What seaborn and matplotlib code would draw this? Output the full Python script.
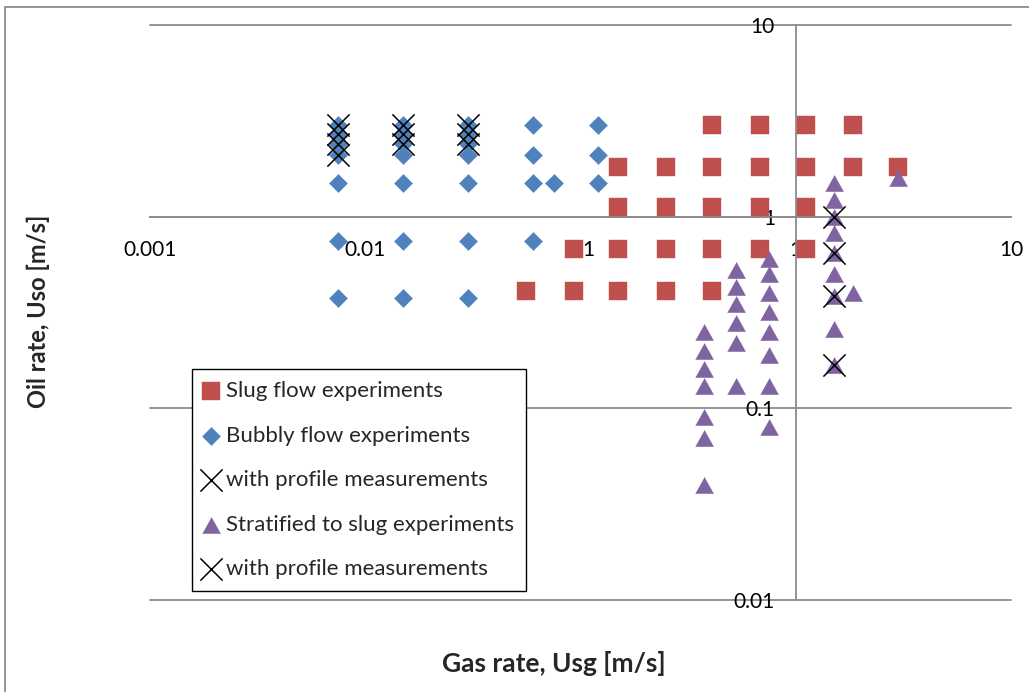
import matplotlib
matplotlib.use('Agg')
import matplotlib.pyplot as plt
import seaborn as sns
import pandas as pd
from matplotlib.patches import Rectangle
from matplotlib.ticker import FixedLocator, FixedFormatter, NullLocator

sns.set_style('white')
plt.rcParams['font.family'] = ['Lato', 'DejaVu Sans']

# ---------------- data ----------------
slug_usg = [0.41, 0.68, 1.11, 1.85,
            0.15, 0.25, 0.41, 0.68, 1.11, 1.85, 3.0,
            0.15, 0.25, 0.41, 0.68, 1.11,
            0.093, 0.15, 0.25, 0.41, 0.68, 1.11,
            0.056, 0.093, 0.15, 0.25, 0.41]
slug_uso = [3.0, 3.0, 3.0, 3.0,
            1.82, 1.82, 1.82, 1.82, 1.82, 1.82, 1.82,
            1.12, 1.12, 1.12, 1.12, 1.12,
            0.68, 0.68, 0.68, 0.68, 0.68, 0.68,
            0.41, 0.41, 0.41, 0.41, 0.41]

bubbly_usg = [0.0075] * 7 + [0.015] * 7 + [0.03] * 7 + [0.06] * 4 + [0.075] + [0.12] * 3
bubbly_uso = [3.0, 2.7, 2.4, 2.1, 1.5, 0.75, 0.375,
              3.0, 2.7, 2.4, 2.1, 1.5, 0.75, 0.375,
              3.0, 2.7, 2.4, 2.1, 1.5, 0.75, 0.375,
              3.0, 2.1, 1.5, 0.75,
              1.5,
              3.0, 2.1, 1.5]

bubbly_prof_usg = [0.0075] * 4 + [0.015] * 3 + [0.03] * 3
bubbly_prof_uso = [3.0, 2.7, 2.4, 2.1, 3.0, 2.7, 2.4, 3.0, 2.7, 2.4]

strat_usg = [0.375] * 7 + [0.53] * 6 + [0.75] * 8 + [1.5] * 9 + [1.85] + [3.0]
strat_uso = [0.25, 0.2, 0.16, 0.13, 0.09, 0.07, 0.04,
             0.53, 0.43, 0.35, 0.28, 0.22, 0.13,
             0.6, 0.5, 0.4, 0.32, 0.25, 0.19, 0.13, 0.08,
             1.5, 1.22, 1.0, 0.82, 0.65, 0.5, 0.385, 0.26, 0.168,
             0.4,
             1.6]

strat_prof_usg = [1.5, 1.5, 1.5, 1.5]
strat_prof_uso = [1.0, 0.65, 0.385, 0.168]

x_ticks = [0.001, 0.01, 0.1, 1, 10]
x_tick_labels = ['0.001', '0.01', '0.1', '1', '10']
y_ticks = [0.01, 0.1, 1, 10]
y_tick_labels = ['0.01', '0.1', '1', '10']

series_labels = ['Slug flow experiments', 'Bubbly flow experiments',
                 'with profile measurements', 'Stratified to slug experiments',
                 'with profile measurements']

RED = '#C0504D'
BLUE = '#4F81BD'
PURPLE = '#8064A2'
GRAY = '#8C8C8C'

tri = [(-1, -0.9), (1, -0.9), (0, 0.9)]

# ---------------- figure ----------------
W, H = 1029, 692
fig = plt.figure(figsize=(W / 100, H / 100), dpi=100)
ax = fig.add_axes([150 / W, 92 / H, 861 / W, 575 / H])
ax.set_xscale('log')
ax.set_yscale('log')

sns.scatterplot(x=slug_usg, y=slug_uso, ax=ax, marker='s', s=168, color=RED,
                edgecolor=RED, linewidth=0.3, label=series_labels[0], zorder=3)
sns.scatterplot(x=bubbly_usg, y=bubbly_uso, ax=ax, marker='D', s=85, color=BLUE,
                edgecolor=BLUE, linewidth=0.3, label=series_labels[1], zorder=4)
sns.scatterplot(x=bubbly_prof_usg, y=bubbly_prof_uso, ax=ax, marker='x', s=256,
                color='black', linewidth=1.1, label=series_labels[2], zorder=5)
sns.scatterplot(x=strat_usg, y=strat_uso, ax=ax, marker=tri, s=169, color=PURPLE,
                edgecolor=PURPLE, linewidth=0.3, label=series_labels[3], zorder=6)
sns.scatterplot(x=strat_prof_usg, y=strat_prof_uso, ax=ax, marker='x', s=256,
                color='black', linewidth=1.1, label=series_labels[4], zorder=7)

ax.set_xlim(0.001, 10)
ax.set_ylim(0.01, 10)

ax.xaxis.set_major_locator(FixedLocator(x_ticks))
ax.xaxis.set_major_formatter(FixedFormatter(x_tick_labels))
ax.yaxis.set_major_locator(FixedLocator(y_ticks))
ax.yaxis.set_major_formatter(FixedFormatter(y_tick_labels))
ax.xaxis.set_minor_locator(NullLocator())
ax.yaxis.set_minor_locator(NullLocator())

for side in ['top', 'right']:
    ax.spines[side].set_visible(False)
ax.spines['left'].set_position(('data', 1))
ax.spines['bottom'].set_position(('data', 1))
for side in ['left', 'bottom']:
    ax.spines[side].set_color(GRAY)
    ax.spines[side].set_linewidth(1.3)

ax.yaxis.grid(True, color=GRAY, linewidth=1.3)
ax.xaxis.grid(False)
ax.set_axisbelow(True)
for gl in ax.get_ygridlines():
    gl.set_clip_on(False)

ax.tick_params(axis='x', direction='out', length=6, width=1.3, color=GRAY,
               pad=10.5, labelsize=15, labelcolor='black')
ax.tick_params(axis='y', direction='out', length=6, width=1.3, color=GRAY,
               pad=9, labelsize=15, labelcolor='black')
ax.set_xlabel('')
ax.set_ylabel('')

handles, labels = ax.get_legend_handles_labels()
leg = ax.legend(handles, labels, loc='upper left',
                bbox_to_anchor=(192 / W, 1 - 369 / H), bbox_transform=fig.transFigure,
                borderaxespad=0, frameon=True, fancybox=False, framealpha=1,
                edgecolor='black', fontsize=16, labelspacing=1.1,
                handlelength=0.62, handletextpad=0.37, borderpad=0.55,
                markerscale=1.0)
leg.get_frame().set_linewidth(1.0)
leg.set_zorder(10)

fig.text(38 / W, 1 - 311 / H, 'Oil rate, Uso [m/s]', rotation=90, ha='center',
         va='center', fontweight='bold', fontsize=17)
fig.text(554 / W, 1 - 663 / H, 'Gas rate, Usg [m/s]', ha='center', va='center',
         fontweight='bold', fontsize=19)

fig.add_artist(Rectangle((5 / W, -0.1), 1.2, 1.1 - 6.5 / H, transform=fig.transFigure,
                         fill=False, edgecolor=GRAY, linewidth=1.3))

fig.savefig('out.png', dpi=100)
